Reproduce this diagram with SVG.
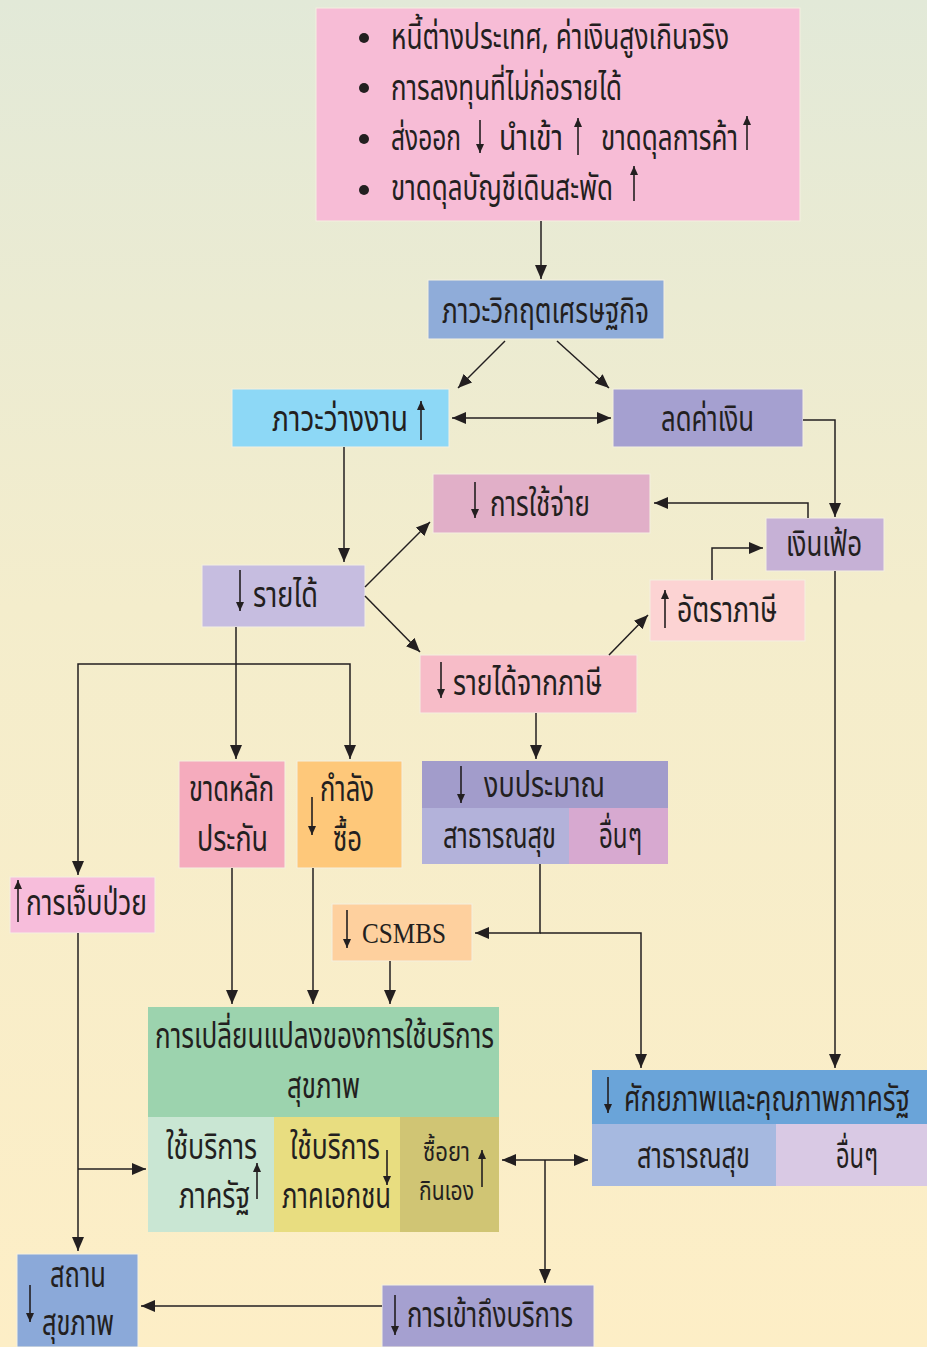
<svg xmlns="http://www.w3.org/2000/svg" width="927" height="1347" viewBox="0 0 927 1347">
<defs>
<linearGradient id="bg" x1="0" y1="0" x2="0" y2="1">
<stop offset="0" stop-color="#e2e9d8"/>
<stop offset="0.45" stop-color="#f4edcc"/>
<stop offset="1" stop-color="#fdeec6"/>
</linearGradient>
<marker id="a" viewBox="0 0 14 12" refX="14" refY="6" markerWidth="14" markerHeight="12" markerUnits="userSpaceOnUse" orient="auto-start-reverse"><path d="M0,0 L14,6 L0,12 z" fill="#231f20"/></marker>
<marker id="s" viewBox="0 0 9 8" refX="9" refY="4" markerWidth="9" markerHeight="8" markerUnits="userSpaceOnUse" orient="auto"><path d="M0,0 L9,4 L0,8 z" fill="#231f20"/></marker>
</defs>
<style>
.t{font-family:"Noto Sans Thai","Noto Sans","DejaVu Sans",sans-serif;font-size:35px;fill:#231f20}
.sm{font-size:27px}
.ln{fill:none;stroke:#231f20;stroke-width:1.5}
.sa{fill:none;stroke:#231f20;stroke-width:1.6}
.bx{stroke:#f4f0e0;stroke-width:1}
</style>
<rect width="927" height="1347" fill="url(#bg)"/>

<g id="n-top">
<rect class="bx" x="316" y="8" width="484" height="213" fill="#f7bcd6"/>
<circle cx="364" cy="38" r="5" fill="#231f20"/>
<circle cx="364" cy="88" r="5" fill="#231f20"/>
<circle cx="364" cy="139" r="5" fill="#231f20"/>
<circle cx="364" cy="190" r="5" fill="#231f20"/>
<text class="t" x="391" y="49" textLength="338" lengthAdjust="spacingAndGlyphs">หนี้ต่างประเทศ, ค่าเงินสูงเกินจริง</text>
<text class="t" x="391" y="100" textLength="231" lengthAdjust="spacingAndGlyphs">การลงทุนที่ไม่ก่อรายได้</text>
<text class="t" x="391" y="150" textLength="70" lengthAdjust="spacingAndGlyphs">ส่งออก</text>
<path class="sa" d="M480,120 V153" marker-end="url(#s)"/>
<text class="t" x="499" y="150" textLength="64" lengthAdjust="spacingAndGlyphs">นำเข้า</text>
<path class="sa" d="M578,155 V118" marker-end="url(#s)"/>
<text class="t" x="601" y="150" textLength="137" lengthAdjust="spacingAndGlyphs">ขาดดุลการค้า</text>
<path class="sa" d="M747,150 V116" marker-end="url(#s)"/>
<text class="t" x="391" y="200" textLength="222" lengthAdjust="spacingAndGlyphs">ขาดดุลบัญชีเดินสะพัด</text>
<path class="sa" d="M634,201 V166" marker-end="url(#s)"/>
</g>

<g id="n-crisis">
<rect class="bx" x="428" y="280" width="236" height="59" fill="#8facd9"/>
<text class="t" x="442" y="323" textLength="207" lengthAdjust="spacingAndGlyphs">ภาวะวิกฤตเศรษฐกิจ</text>
</g>

<g id="n-unemp">
<rect class="bx" x="232" y="389" width="217" height="58" fill="#8dd8f6"/>
<text class="t" x="272" y="431" textLength="136" lengthAdjust="spacingAndGlyphs">ภาวะว่างงาน</text>
<path class="sa" d="M421,440 V401" marker-end="url(#s)"/>
</g>

<g id="n-deval">
<rect class="bx" x="613" y="389" width="190" height="58" fill="#a5a0d0"/>
<text class="t" x="661" y="431" textLength="93" lengthAdjust="spacingAndGlyphs">ลดค่าเงิน</text>
</g>

<g id="n-spend">
<rect class="bx" x="433" y="474" width="217" height="59" fill="#e1afc8"/>
<path class="sa" d="M475,482 V518" marker-end="url(#s)"/>
<text class="t" x="490" y="516" textLength="100" lengthAdjust="spacingAndGlyphs">การใช้จ่าย</text>
</g>

<g id="n-infl">
<rect class="bx" x="766" y="518" width="118" height="53" fill="#c6b1d6"/>
<text class="t" x="786" y="556" textLength="76" lengthAdjust="spacingAndGlyphs">เงินเฟ้อ</text>
</g>

<g id="n-income">
<rect class="bx" x="202" y="565" width="163" height="62" fill="#c6bde0"/>
<path class="sa" d="M240,570 V611" marker-end="url(#s)"/>
<text class="t" x="253" y="607" textLength="65" lengthAdjust="spacingAndGlyphs">รายได้</text>
</g>

<g id="n-taxrate">
<rect class="bx" x="650" y="580" width="155" height="61" fill="#fcd3d3"/>
<path class="sa" d="M665,628 V590" marker-end="url(#s)"/>
<text class="t" x="677" y="622" textLength="100" lengthAdjust="spacingAndGlyphs">อัตราภาษี</text>
</g>

<g id="n-taxinc">
<rect class="bx" x="420" y="655" width="217" height="58" fill="#f7bcc8"/>
<path class="sa" d="M441,662 V698" marker-end="url(#s)"/>
<text class="t" x="453" y="695" textLength="149" lengthAdjust="spacingAndGlyphs">รายได้จากภาษี</text>
</g>

<g id="n-budget">
<rect x="422" y="761" width="246" height="47" fill="#a29ccb"/>
<rect x="422" y="808" width="147" height="56" fill="#b3b2da"/>
<rect x="569" y="808" width="99" height="56" fill="#d7a9d0"/>
<path class="sa" d="M461,766 V803" marker-end="url(#s)"/>
<text class="t" x="484" y="797" textLength="121" lengthAdjust="spacingAndGlyphs">งบประมาณ</text>
<text class="t" x="443" y="848" textLength="113" lengthAdjust="spacingAndGlyphs">สาธารณสุข</text>
<text class="t" x="599" y="848" textLength="43" lengthAdjust="spacingAndGlyphs">อื่นๆ</text>
</g>

<g id="n-insur">
<rect class="bx" x="179" y="761" width="106" height="107" fill="#f5abbd"/>
<text class="t" x="189" y="801" textLength="85" lengthAdjust="spacingAndGlyphs">ขาดหลัก</text>
<text class="t" x="197" y="851" textLength="71" lengthAdjust="spacingAndGlyphs">ประกัน</text>
</g>

<g id="n-purch">
<rect class="bx" x="297" y="761" width="105" height="107" fill="#fec87a"/>
<text class="t" x="320" y="801" textLength="54" lengthAdjust="spacingAndGlyphs">กำลัง</text>
<path class="sa" d="M312,797 V835" marker-end="url(#s)"/>
<text class="t" x="333" y="851" textLength="29" lengthAdjust="spacingAndGlyphs">ซื้อ</text>
</g>

<g id="n-ill">
<rect class="bx" x="10" y="877" width="145" height="56" fill="#f7bddb"/>
<path class="sa" d="M18,922 V880" marker-end="url(#s)"/>
<text class="t" x="26" y="915" textLength="121" lengthAdjust="spacingAndGlyphs">การเจ็บป่วย</text>
</g>

<g id="n-csmbs">
<rect class="bx" x="332" y="904" width="140" height="57" fill="#fed09e"/>
<path class="sa" d="M347,910 V948" marker-end="url(#s)"/>
<text x="362" y="943" textLength="84" lengthAdjust="spacingAndGlyphs" font-family="Liberation Serif, serif" font-size="30" fill="#231f20">CSMBS</text>
</g>

<g id="n-change">
<rect x="148" y="1007" width="351" height="110" fill="#9cd3ae"/>
<rect x="148" y="1117" width="126" height="115" fill="#c9e6d3"/>
<rect x="274" y="1117" width="126" height="115" fill="#e8dd80"/>
<rect x="400" y="1117" width="99" height="115" fill="#d0c574"/>
<text class="t" x="155" y="1048" textLength="339" lengthAdjust="spacingAndGlyphs">การเปลี่ยนแปลงของการใช้บริการ</text>
<text class="t" x="287" y="1098" textLength="73" lengthAdjust="spacingAndGlyphs">สุขภาพ</text>
<text class="t" x="166" y="1159" textLength="91" lengthAdjust="spacingAndGlyphs">ใช้บริการ</text>
<text class="t" x="179" y="1208" textLength="71" lengthAdjust="spacingAndGlyphs">ภาครัฐ</text>
<path class="sa" d="M257,1199 V1163" marker-end="url(#s)"/>
<text class="t" x="290" y="1159" textLength="90" lengthAdjust="spacingAndGlyphs">ใช้บริการ</text>
<path class="sa" d="M387,1150 V1185" marker-end="url(#s)"/>
<text class="t" x="282" y="1208" textLength="109" lengthAdjust="spacingAndGlyphs">ภาคเอกชน</text>
<text class="t sm" x="423" y="1161" textLength="47" lengthAdjust="spacingAndGlyphs">ซื้อยา</text>
<text class="t sm" x="419" y="1200" textLength="55" lengthAdjust="spacingAndGlyphs">กินเอง</text>
<path class="sa" d="M482,1187 V1150" marker-end="url(#s)"/>
</g>

<g id="n-capac">
<rect x="592" y="1070" width="335" height="54" fill="#6aa4d9"/>
<rect x="592" y="1124" width="184" height="62" fill="#a6b9e0"/>
<rect x="776" y="1124" width="151" height="62" fill="#d9c9e4"/>
<path class="sa" d="M608,1077 V1113" marker-end="url(#s)"/>
<text class="t" x="624" y="1111" textLength="286" lengthAdjust="spacingAndGlyphs">ศักยภาพและคุณภาพภาครัฐ</text>
<text class="t" x="637" y="1168" textLength="113" lengthAdjust="spacingAndGlyphs">สาธารณสุข</text>
<text class="t" x="836" y="1168" textLength="42" lengthAdjust="spacingAndGlyphs">อื่นๆ</text>
</g>

<g id="n-access">
<rect class="bx" x="382" y="1285" width="212" height="62" fill="#a5a0d0"/>
<path class="sa" d="M395,1295 V1335" marker-end="url(#s)"/>
<text class="t" x="407" y="1327" textLength="166" lengthAdjust="spacingAndGlyphs">การเข้าถึงบริการ</text>
</g>

<g id="n-facil">
<rect class="bx" x="17" y="1254" width="121" height="93" fill="#8ba9d9"/>
<text class="t" x="50" y="1287" textLength="56" lengthAdjust="spacingAndGlyphs">สถาน</text>
<path class="sa" d="M30,1285 V1322" marker-end="url(#s)"/>
<text class="t" x="42" y="1335" textLength="72" lengthAdjust="spacingAndGlyphs">สุขภาพ</text>
</g>

<g id="connectors">
<path class="ln" d="M541,221 V279" marker-end="url(#a)"/>
<path class="ln" d="M505,341 L458,388" marker-end="url(#a)"/>
<path class="ln" d="M557,341 L609,388" marker-end="url(#a)"/>
<path class="ln" d="M452,418 H611" marker-start="url(#a)" marker-end="url(#a)"/>
<path class="ln" d="M803,420 H835 V517" marker-end="url(#a)"/>
<path class="ln" d="M344,447 V562" marker-end="url(#a)"/>
<path class="ln" d="M365,587 L430,522" marker-end="url(#a)"/>
<path class="ln" d="M365,596 L420,652" marker-end="url(#a)"/>
<path class="ln" d="M808,518 V503 H654" marker-end="url(#a)"/>
<path class="ln" d="M712,580 V548 H763" marker-end="url(#a)"/>
<path class="ln" d="M609,655 L648,615" marker-end="url(#a)"/>
<path class="ln" d="M536,713 V759" marker-end="url(#a)"/>
<path class="ln" d="M835,571 V1068" marker-end="url(#a)"/>
<path class="ln" d="M540,864 V933 H475" marker-end="url(#a)"/>
<path class="ln" d="M540,933 H641 V1068" marker-end="url(#a)"/>
<path class="ln" d="M236,627 V759" marker-end="url(#a)"/>
<path class="ln" d="M236,664 H350 V759" marker-end="url(#a)"/>
<path class="ln" d="M236,664 H78 V875" marker-end="url(#a)"/>
<path class="ln" d="M78,933 V1251" marker-end="url(#a)"/>
<path class="ln" d="M78,1169 H146" marker-end="url(#a)"/>
<path class="ln" d="M232,868 V1004" marker-end="url(#a)"/>
<path class="ln" d="M313,868 V1004" marker-end="url(#a)"/>
<path class="ln" d="M390,961 V1004" marker-end="url(#a)"/>
<path class="ln" d="M502,1160 H588" marker-start="url(#a)" marker-end="url(#a)"/>
<path class="ln" d="M545,1160 V1283" marker-end="url(#a)"/>
<path class="ln" d="M382,1306 H141" marker-end="url(#a)"/>
</g>
</svg>
